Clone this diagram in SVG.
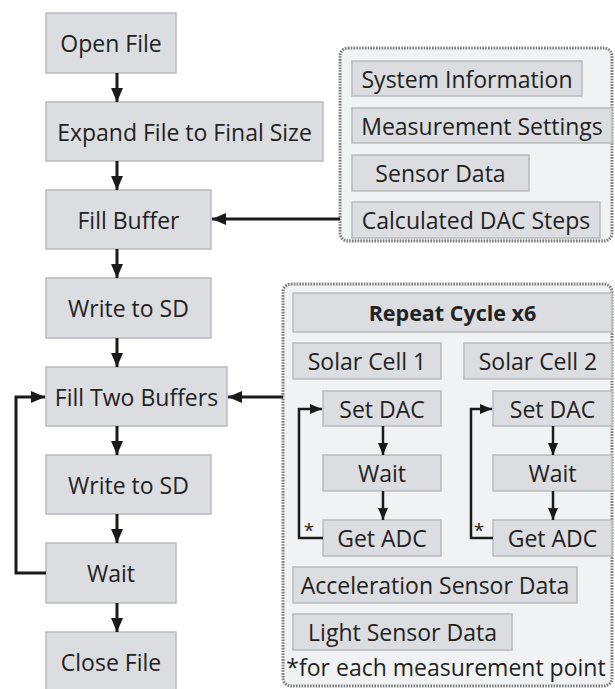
<svg xmlns="http://www.w3.org/2000/svg" width="615" height="689" viewBox="0 0 615 689">
<defs>
<style>
.box{fill:#dcdde0;stroke:#b9babd;stroke-width:1.5}
.grp{fill:#f1f2f4;stroke:#7d7d7f;stroke-width:3;stroke-dasharray:1.6 1.2}
.t{font-family:"Open Sans","Noto Sans",sans-serif;font-size:23px;fill:#222;text-anchor:middle;dominant-baseline:central}
.b{font-weight:bold;font-size:21.5px}
.ast{font-size:19px}
.ln{fill:none;stroke:#1a1a1a;stroke-width:3}
.ln2{fill:none;stroke:#1a1a1a;stroke-width:2.5}
</style>
<marker id="ah" viewBox="0 0 14 12" refX="14" refY="6" markerWidth="14" markerHeight="12" markerUnits="userSpaceOnUse" orient="auto"><path d="M0,0 L14,6 L0,12 z" fill="#1a1a1a"/></marker>
<marker id="ah2" viewBox="0 0 12 10" refX="12" refY="5" markerWidth="12" markerHeight="10" markerUnits="userSpaceOnUse" orient="auto"><path d="M0,0 L12,5 L0,10 z" fill="#1a1a1a"/></marker>
</defs>

<g id="group-top"><rect class="grp" x="340" y="48" width="272" height="193" rx="8"/></g>
<g id="group-bottom"><rect class="grp" x="283" y="284" width="329" height="402" rx="8"/></g>

<g id="open-file"><rect class="box" x="46" y="13" width="130" height="60"/><text class="t" x="111" y="43">Open File</text></g>
<g id="expand-file"><rect class="box" x="46" y="102" width="277" height="59"/><text class="t" x="184.5" y="131.5">Expand File to Final Size</text></g>
<g id="fill-buffer"><rect class="box" x="46" y="190" width="165" height="59"/><text class="t" x="128.5" y="219.5">Fill Buffer</text></g>
<g id="write-sd-1"><rect class="box" x="46" y="278" width="165" height="60"/><text class="t" x="128.5" y="308">Write to SD</text></g>
<g id="fill-two-buffers"><rect class="box" x="46" y="367" width="181" height="59"/><text class="t" x="136.5" y="396.5">Fill Two Buffers</text></g>
<g id="write-sd-2"><rect class="box" x="46" y="455" width="165" height="59"/><text class="t" x="128.5" y="484.5">Write to SD</text></g>
<g id="wait-main"><rect class="box" x="46" y="543" width="130" height="60"/><text class="t" x="111" y="573">Wait</text></g>
<g id="close-file"><rect class="box" x="46" y="632" width="130" height="60"/><text class="t" x="111" y="662">Close File</text></g>

<g id="system-information"><rect class="box" x="352" y="61" width="230" height="35"/><text class="t" x="467" y="78.5">System Information</text></g>
<g id="measurement-settings"><rect class="box" x="352" y="108" width="260" height="35"/><text class="t" x="482" y="125.5">Measurement Settings</text></g>
<g id="sensor-data"><rect class="box" x="352" y="155" width="177" height="36"/><text class="t" x="440.5" y="173">Sensor Data</text></g>
<g id="calculated-dac-steps"><rect class="box" x="352" y="202" width="248" height="36"/><text class="t" x="476" y="220">Calculated DAC Steps</text></g>

<g id="repeat-cycle"><rect class="box" x="293" y="293" width="319" height="39"/><text class="t b" x="452.5" y="312.5">Repeat Cycle x6</text></g>
<g id="solar-cell-1"><rect class="box" x="293" y="343" width="148" height="36"/><text class="t" x="367" y="361">Solar Cell 1</text></g>
<g id="solar-cell-2"><rect class="box" x="464" y="343" width="148" height="36"/><text class="t" x="538" y="361">Solar Cell 2</text></g>
<g id="set-dac-1"><rect class="box" x="323" y="391" width="118" height="35"/><text class="t" x="382" y="408.5">Set DAC</text></g>
<g id="set-dac-2"><rect class="box" x="493" y="391" width="119" height="35"/><text class="t" x="552.5" y="408.5">Set DAC</text></g>
<g id="wait-1"><rect class="box" x="323" y="455" width="118" height="36"/><text class="t" x="382" y="473">Wait</text></g>
<g id="wait-2"><rect class="box" x="493" y="455" width="119" height="36"/><text class="t" x="552.5" y="473">Wait</text></g>
<g id="get-adc-1"><rect class="box" x="323" y="520" width="118" height="36"/><text class="t" x="382" y="538">Get ADC</text></g>
<g id="get-adc-2"><rect class="box" x="493" y="520" width="119" height="36"/><text class="t" x="552.5" y="538">Get ADC</text></g>
<g id="acceleration-sensor-data"><rect class="box" x="293" y="567" width="284" height="36"/><text class="t" x="435" y="585">Acceleration Sensor Data</text></g>
<g id="light-sensor-data"><rect class="box" x="293" y="614" width="219" height="36"/><text class="t" x="402.5" y="632">Light Sensor Data</text></g>
<g id="footnote"><text class="t" x="446" y="667">*for each measurement point</text></g>

<g id="connectors">
<line class="ln" x1="117" y1="73" x2="117" y2="102" marker-end="url(#ah)"/>
<line class="ln" x1="117" y1="161" x2="117" y2="190" marker-end="url(#ah)"/>
<line class="ln" x1="117" y1="249" x2="117" y2="278" marker-end="url(#ah)"/>
<line class="ln" x1="117" y1="338" x2="117" y2="367" marker-end="url(#ah)"/>
<line class="ln" x1="117" y1="426" x2="117" y2="455" marker-end="url(#ah)"/>
<line class="ln" x1="117" y1="514" x2="117" y2="543" marker-end="url(#ah)"/>
<line class="ln" x1="117" y1="603" x2="117" y2="632" marker-end="url(#ah)"/>
<line class="ln" x1="340" y1="219" x2="212" y2="219" marker-end="url(#ah)"/>
<line class="ln" x1="283" y1="397" x2="228" y2="397" marker-end="url(#ah)"/>
<polyline class="ln" points="46,573 16,573 16,397 45,397" marker-end="url(#ah)"/>
<line class="ln2" x1="383" y1="426" x2="383" y2="455" marker-end="url(#ah2)"/>
<line class="ln2" x1="383" y1="491" x2="383" y2="520" marker-end="url(#ah2)"/>
<line class="ln2" x1="553" y1="426" x2="553" y2="455" marker-end="url(#ah2)"/>
<line class="ln2" x1="553" y1="491" x2="553" y2="520" marker-end="url(#ah2)"/>
<polyline class="ln2" points="323,538 299,538 299,409 322,409" marker-end="url(#ah2)"/>
<polyline class="ln2" points="493,538 471,538 471,409 492,409" marker-end="url(#ah2)"/>
<text class="t ast" x="309" y="530">*</text>
<text class="t ast" x="479" y="530">*</text>
</g>
</svg>
